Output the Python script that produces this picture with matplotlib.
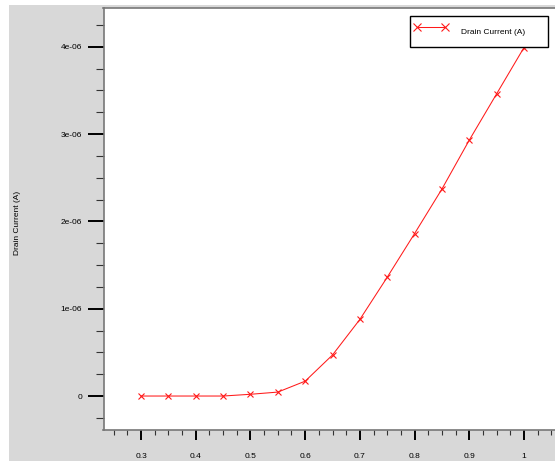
"""
Drain current vs gate voltage, redrawn with matplotlib.
"""

import numpy as np
import matplotlib
matplotlib.use("Agg")
import matplotlib.pyplot as plt
from matplotlib.patches import Rectangle
from matplotlib.ticker import MultipleLocator, FuncFormatter

# data
gate_voltage = [0.3, 0.35, 0.4, 0.45, 0.5, 0.55, 0.6, 0.65, 0.7, 0.75, 0.8, 0.85, 0.9, 0.95, 1.0]
drain_current = [0.0, 0.0, 0.0, 0.0, 0.02e-6, 0.045e-6, 0.17e-6, 0.47e-6, 0.877e-6,
                 1.36e-6, 1.86e-6, 2.37e-6, 2.93e-6, 3.46e-6, 3.99e-6]
series_label = "Drain Current (A)"
y_label = "Drain Current (A)"
x_ticks = [0.3, 0.4, 0.5, 0.6, 0.7, 0.8, 0.9, 1.0]
y_ticks = [0.0, 1e-6, 2e-6, 3e-6, 4e-6]

plt.rcParams['font.family'] = ['Liberation Sans', 'DejaVu Sans']

W, H = 555, 461
fig = plt.figure(figsize=(W / 100, H / 100), dpi=100)
fig.patch.set_facecolor('white')
# grey panel behind the axes (thin white strips at left and top)
fig.patches.append(Rectangle((9 / W, 0), 1, 1 - 5 / H, transform=fig.transFigure,
                             facecolor='#d8d8d8', edgecolor='none', zorder=-10))

left, top, bottom = 103.5, 8.5, 430
ax = fig.add_axes([left / W, 1 - bottom / H, 1 - left / W, (bottom - top) / H])
ax.set_facecolor('white')

ax.plot(gate_voltage, drain_current, color='#ff1a1a', lw=0.75, marker='x',
        markersize=5, markeredgewidth=0.8, label=series_label)

ax.set_xlim(0.2314, 1.0567)
ax.set_ylim(-0.389e-6, 4.437e-6)

ax.set_xticks(x_ticks)
ax.set_yticks(y_ticks)
ax.xaxis.set_major_formatter(FuncFormatter(lambda v, p: '%g' % v))
ax.yaxis.set_major_formatter(FuncFormatter(lambda v, p: '0' if abs(v) < 1e-12 else '{:.0e}'.format(v)))
ax.xaxis.set_minor_locator(MultipleLocator(0.025))
ax.yaxis.set_minor_locator(MultipleLocator(0.25e-6))

ax.tick_params(axis='x', which='major', direction='out', length=7.2, width=1.4,
               color='black', pad=9, labelsize=6)
ax.tick_params(axis='x', which='minor', direction='out', length=3.6, width=0.8, color='#333333')
ax.tick_params(axis='y', which='major', direction='out', length=11.5, width=1.4,
               color='black', pad=4, labelsize=6)
ax.tick_params(axis='y', which='minor', direction='out', length=5.8, width=0.8, color='#333333')

for side in ['left', 'bottom', 'top']:
    ax.spines[side].set_color('#777777')
    ax.spines[side].set_linewidth(1.2)
ax.spines['right'].set_visible(False)

fig.text(17.5 / W, 1 - 223 / H, y_label, rotation=90, ha='center', va='center', fontsize=6)

leg = ax.legend(loc='upper left', bbox_to_anchor=(410 / W, 1 - 48 / H, 138 / W, 32 / H),
                bbox_transform=fig.transFigure, mode='expand', borderaxespad=0,
                fontsize=6, numpoints=2, handlelength=4.0, handleheight=3.7,
                handletextpad=1.6, borderpad=0.55,
                fancybox=False, framealpha=1, markerscale=1.2)
leg.get_frame().set_edgecolor('black')
leg.get_frame().set_linewidth(1.0)

fig.savefig('out.png', dpi=100)
